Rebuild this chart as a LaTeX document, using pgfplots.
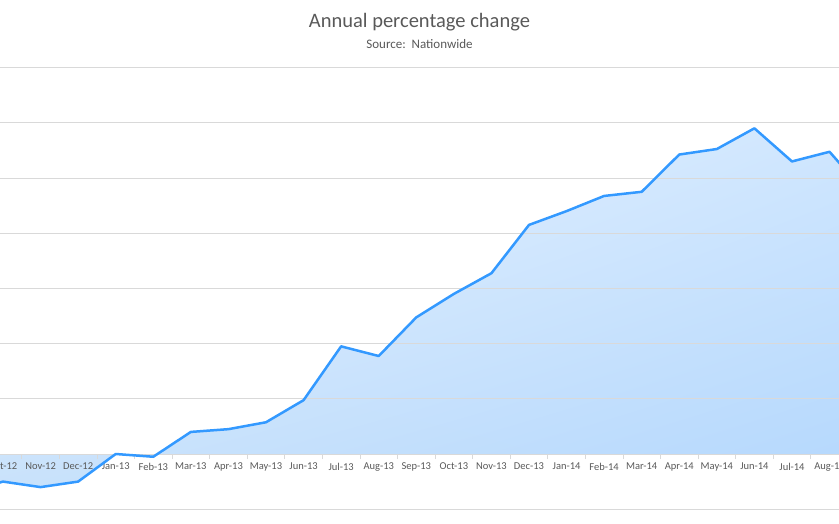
\documentclass[border=0pt]{standalone}
\usepackage{pgfplots}
\pgfplotsset{compat=1.18}
\usetikzlibrary{shadings}
\usepackage{fontspec}
\setmainfont{Carlito}
\definecolor{txt}{HTML}{595959}
\definecolor{grd}{HTML}{D9D9D9}
\definecolor{ln}{HTML}{3399FF}
\definecolor{ful}{HTML}{EEF6FF}
\definecolor{fur}{HTML}{CFE6FE}
\definecolor{fll}{HTML}{C9E2FB}
\definecolor{flr}{HTML}{B3D7FD}
\pgfplotstableread{
x y
-1 -1.4
0 -1.0
1 -1.2
2 -1.0
3 0.0
4 -0.1
5 0.8
6 0.9
7 1.15
8 1.95
9 3.9
10 3.55
11 4.95
12 5.8
13 6.55
14 8.3
15 8.8
16 9.35
17 9.5
18 10.85
19 11.05
20 11.8
21 10.6
22 10.95
23 9.4
}\hpi
\pgfplotsset{common/.style={
  at={(-53.355pt,13.8pt)}, anchor=south west,
  scale only axis,
  x=37.57pt, y=27.6pt,
  xmin=-1.5, xmax=23.5, ymin=-2, ymax=14,
  clip=false}}
\begin{document}
\begin{tikzpicture}[x=1pt,y=1pt]
\useasboundingbox (0,0) rectangle (839,523);
\clip (0,0) rectangle (839,523);
\node[text=txt,font=\fontsize{20.5}{24}\selectfont] at (419.5,501) {Annual percentage change};
\node[text=txt,font=\fontsize{13}{15}\selectfont] at (419.5,479) {Source:\ \ Nationwide};
\begin{axis}[
  common,
  axis on top,
  axis y line*=left,
  y axis line style={draw=none},
  major y tick style={draw=none},
  yticklabels={},
  axis x line*=middle,
  x axis line style={draw=grd, line width=0.8pt, -},
  xtick={0,...,22},
  xticklabels={Oct-12,Nov-12,Dec-12,Jan-13,Feb-13,Mar-13,Apr-13,May-13,Jun-13,Jul-13,Aug-13,Sep-13,Oct-13,Nov-13,Dec-13,Jan-14,Feb-14,Mar-14,Apr-14,May-14,Jun-14,Jul-14,Aug-14},
  major x tick style={draw=none},
  minor xtick={-0.5,0.5,...,23.5},
  minor x tick style={draw=grd, line width=0.8pt},
  minor tick length=5pt,
  xtick align=outside,
  x tick label style={text=txt, font=\fontsize{10.5}{12}\selectfont, yshift=-1pt},
  ytick={-2,0,...,14},
  ymajorgrids,
  grid style={draw=grd, line width=0.8pt},
]
\addplot[draw=none, upper left=ful, upper right=fur, lower left=fll, lower right=flr] table {\hpi} \closedcycle;
\end{axis}
\begin{axis}[common, hide axis]
\addplot[ln, line width=2.5pt, line join=round] table {\hpi};
\end{axis}
\end{tikzpicture}
\end{document}
